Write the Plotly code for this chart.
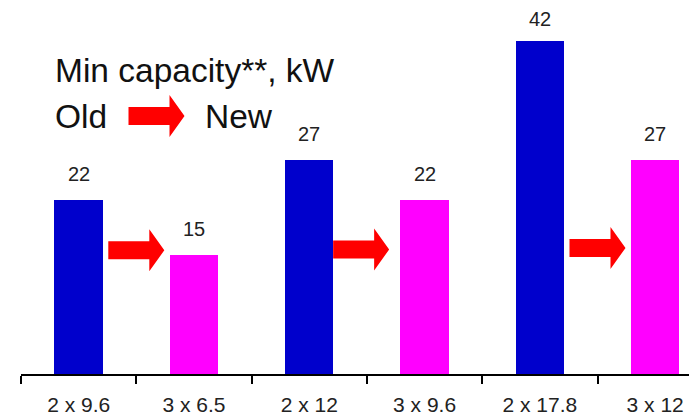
import plotly.graph_objects as go

categories = ["2 x 9.6", "3 x 6.5", "2 x 12", "3 x 9.6", "2 x 17.8", "3 x 12"]
values = [22, 15, 27, 22, 42, 27]
bar_colors = ["#0000CC", "#FF00FF", "#0000CC", "#FF00FF", "#0000CC", "#FF00FF"]
arrow_x = [0.5, 2.45, 4.5]
arrow_y = [15.6, 15.7, 15.9]

FONT = "Liberation Sans, Arial, sans-serif"
xpos = list(range(len(categories)))

# page body has an 8px margin: figure origin sits at window (8, 8)
OFF = 8
BASE = 374          # window y of the axis line
LEFT = 21           # window x of the axis start
PLOT_W = 697 - LEFT
PLOT_H = BASE - OFF
PX_PER_UNIT = 7.93
CAT_PX = 115.3
LABEL_SIZE = 20

fig = go.Figure()
fig.add_trace(go.Bar(x=xpos, y=values, width=0.42, marker=dict(color=bar_colors, line=dict(width=0)),
                     showlegend=False, hoverinfo="skip"))

for x, v in zip(xpos, values):
    # label sits ~26px above the bar, but never above the top of the page
    shift = min(26, BASE - v * PX_PER_UNIT - 19)
    fig.add_annotation(x=x, y=v, text=str(v), showarrow=False, yanchor="middle", yshift=shift,
                       font=dict(family=FONT, size=LABEL_SIZE, color="#222222"))

arrow_path = "M -28,-9 L 13,-9 L 13,-21 L 28,0 L 13,21 L 13,9 L -28,9 Z"
for ax, ay in zip(arrow_x, arrow_y):
    fig.add_shape(type="path", xref="x", yref="y", xsizemode="pixel", ysizemode="pixel",
                  xanchor=ax, yanchor=ay, path=arrow_path, fillcolor="#FF0000", line=dict(width=0))


def px(wx):
    return (wx - LEFT) / PLOT_W


def py(wy):
    return (BASE - wy) / PLOT_H


# legend-like title arrow
fig.add_shape(type="path", xref="paper", yref="paper", xsizemode="pixel", ysizemode="pixel",
              xanchor=px(156.5), yanchor=py(116), path=arrow_path,
              fillcolor="#FF0000", line=dict(width=0))

fig.add_annotation(xref="paper", yref="paper", x=px(53), y=py(71),
                   text="Min capacity**, kW", showarrow=False, xanchor="left", yanchor="middle",
                   font=dict(family=FONT, size=33.5, color="#111111"))
fig.add_annotation(xref="paper", yref="paper", x=px(53), y=py(116),
                   text="Old", showarrow=False, xanchor="left", yanchor="middle",
                   font=dict(family=FONT, size=33.5, color="#111111"))
fig.add_annotation(xref="paper", yref="paper", x=px(203), y=py(116),
                   text="New", showarrow=False, xanchor="left", yanchor="middle",
                   font=dict(family=FONT, size=33.5, color="#111111"))

fig.update_layout(
    width=697 - OFF, height=415 - OFF,
    margin=dict(l=LEFT - OFF, r=0, t=0, b=415 - BASE),
    paper_bgcolor="white", plot_bgcolor="white",
    bargap=0,
    xaxis=dict(range=[-0.5, -0.5 + PLOT_W / CAT_PX], tickvals=xpos, ticktext=categories, automargin=False,
               ticks="", showgrid=False, zeroline=False, showline=True, linecolor="black", linewidth=1.5,
               tickfont=dict(family=FONT, size=21, color="#222222"), ticklabelstandoff=11,
               minor=dict(tickvals=[-0.5, 0.5, 1.5, 2.5, 3.5, 4.5, 5.5], ticks="outside", ticklen=8,
                          tickcolor="black", tickwidth=1.5, showgrid=False)),
    yaxis=dict(range=[0, PLOT_H / PX_PER_UNIT], visible=False, showgrid=False, zeroline=False,
               automargin=False),
)

fig.write_html("out.html")
